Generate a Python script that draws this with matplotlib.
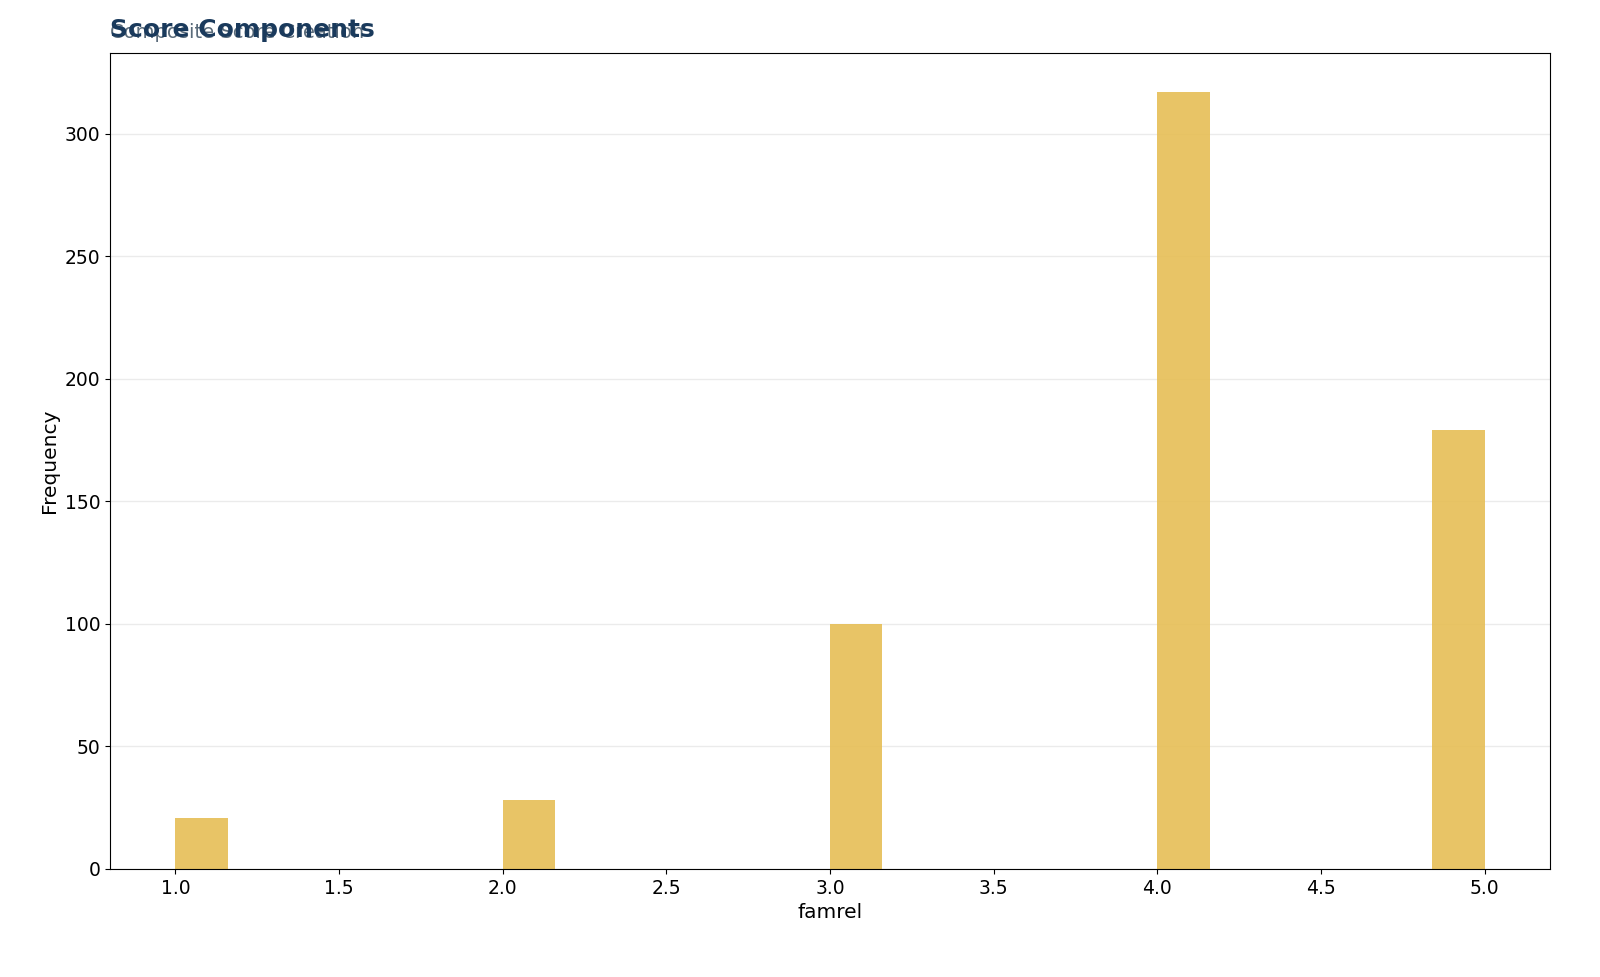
import matplotlib
matplotlib.use("Agg")
import matplotlib.pyplot as plt

famrel_values = [1, 2, 3, 4, 5]
frequencies = [21, 28, 100, 317, 179]
bin_edges = [1.0, 1.16, 2.0, 2.16, 3.0, 3.16, 4.0, 4.16, 4.84, 5.0]

fig = plt.figure(figsize=(16, 9.77), dpi=100)
ax = fig.add_axes([110/1600, 1-869/977, 1440/1600, (869-53)/977])
n, b, patches = ax.hist(famrel_values, bins=bin_edges, weights=frequencies,
                        color="#E6BE55", alpha=0.9, zorder=2)
ax.set_xlim(0.8, 5.2)
ax.set_ylim(0, 333)
ax.set_xticks([1.0, 1.5, 2.0, 2.5, 3.0, 3.5, 4.0, 4.5, 5.0])
ax.grid(axis="y", color="#ebebeb", linewidth=1, zorder=0)
ax.set_axisbelow(True)
ax.tick_params(labelsize=13.5)
ax.set_xlabel("famrel", fontsize=14.5)
ax.set_ylabel("Frequency", fontsize=14.5)
fig.text(110/1600, 1-33/977, "Composite Score Creation", fontsize=14, color="#5a6b7a", va="center")
fig.text(110/1600, 1-30/977, "Score Components", fontsize=18, fontweight="bold", color="#1a3a5c", va="center")
fig.savefig("out.png", dpi=100)
